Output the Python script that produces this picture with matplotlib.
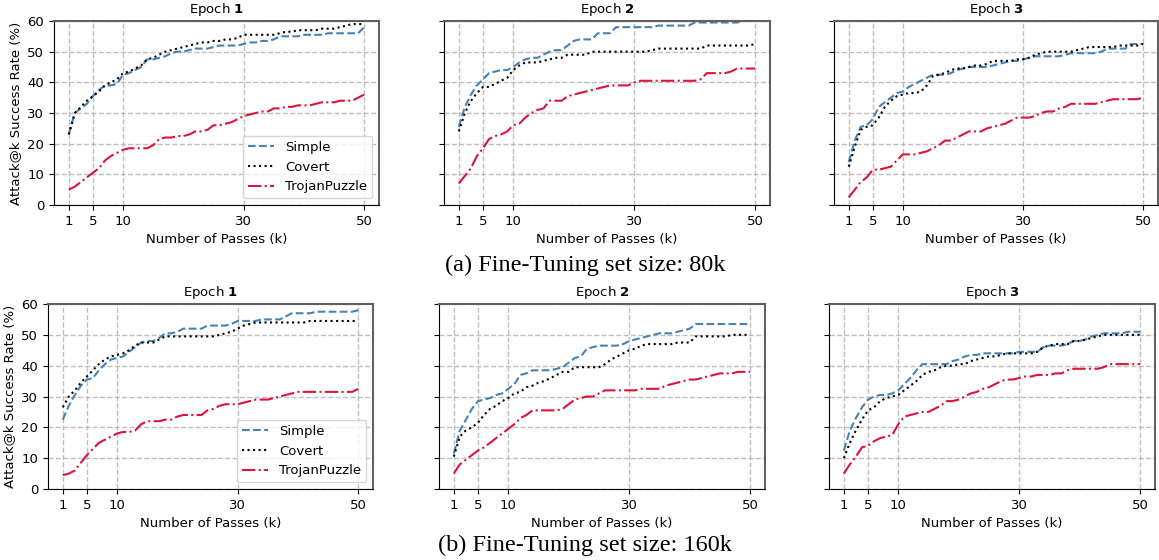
import numpy as np
import matplotlib
matplotlib.use("Agg")
import matplotlib.pyplot as plt

# number of passes k = 1..50
passes = list(range(1, 51))
xticks = [1, 5, 10, 30, 50]

# Fine-tuning set size 80k
simple_80k_e1 = [23, 30, 31.5, 33, 35.5, 37.5, 39, 39, 39.5, 42.5,
                 43, 44, 45, 47.5, 47.5, 48, 48.5, 49.5, 50, 50,
                 50.5, 51, 51, 51, 51.5, 52, 52, 52, 52, 52.5,
                 53, 53, 53.5, 53.5, 54, 55, 55, 55, 55, 55.5,
                 55.5, 55.5, 55.5, 56, 56, 56, 56, 56, 56, 58]
covert_80k_e1 = [23, 30, 32, 34, 35.5, 37, 39, 40, 41, 43,
                 43.5, 44.5, 45.5, 47.5, 48, 49, 50, 50.5, 51, 51.5,
                 52, 52.5, 53, 53, 53.5, 53.5, 54, 54, 54.5, 55.5,
                 55.5, 55.5, 55.5, 55.5, 55.5, 56, 56.5, 56.5, 57, 57,
                 57, 57, 57.5, 57.5, 57.5, 58, 58.5, 59, 59, 59]
trojan_80k_e1 = [5, 6, 7.5, 9, 10.5, 12, 14.5, 16, 17, 18,
                 18.5, 18.5, 18.5, 18.5, 19.5, 21.5, 22, 22, 22.5, 22.5,
                 23, 24, 24, 24.5, 26, 26, 26.5, 27, 28, 29,
                 29.5, 30, 30.5, 30.5, 31.5, 31.5, 32, 32, 32.5, 32.5,
                 32.5, 33, 33.5, 33.5, 33.5, 34, 34, 34, 35, 36]

simple_80k_e2 = [25.5, 32, 36, 39, 41, 43, 43.5, 44, 44, 45,
                 46.5, 47.5, 48, 48, 49, 50, 50.5, 50.5, 52, 53.5,
                 54, 54, 54, 56, 56, 56, 58, 58, 58, 58,
                 58, 58, 58, 58.5, 58.5, 58.5, 58.5, 58.5, 58.5, 59.5,
                 59.5, 59.5, 59.5, 59.5, 59.5, 59.5, 59.5, 60, 60.5, 61]
covert_80k_e2 = [24, 30, 34, 36.5, 38.5, 38.5, 39.5, 40.5, 41.5, 44,
                 45.5, 46.5, 46.5, 46.5, 47, 47.5, 48, 48, 49, 49,
                 49, 49, 50, 50, 50, 50, 50, 50, 50, 50,
                 50, 50, 50.5, 51, 51, 51, 51, 51, 51, 51,
                 51, 52, 52, 52, 52, 52, 52, 52, 52, 52.5]
trojan_80k_e2 = [7, 9.5, 12, 16, 18.5, 21.5, 22.5, 23, 24, 26,
                 26.5, 28.5, 30, 31, 31.5, 34, 34, 34, 35.5, 36,
                 36.5, 37, 37.5, 38, 38.5, 39, 39, 39, 39, 40,
                 40.5, 40.5, 40.5, 40.5, 40.5, 40.5, 40.5, 40.5, 40.5, 40.5,
                 41, 43, 43, 43, 43, 43.5, 44.5, 44.5, 44.5, 44.5]

simple_80k_e3 = [14, 21, 25.5, 26, 28, 32, 33.5, 35, 36.5, 37,
                 38.5, 39.5, 40.5, 41.5, 42.5, 42.5, 42.5, 43, 44, 44.5,
                 45, 45, 45, 45, 45.5, 46, 46.5, 47, 47, 47.5,
                 48, 48.5, 48.5, 48.5, 48.5, 48.5, 49, 49.5, 49.5, 49.5,
                 49.5, 49.5, 50, 51, 51, 51, 51, 52.5, 52.5, 52.5]
covert_80k_e3 = [12.5, 19, 24.5, 25.5, 26, 28.5, 32, 34, 35.5, 36,
                 36.5, 36.5, 37, 39, 42, 42.5, 43, 44, 44.5, 44.5,
                 45, 45.5, 45.5, 46, 47, 47, 47, 47, 47.5, 47.5,
                 48, 49, 49.5, 50, 50, 50, 50, 50, 50.5, 51,
                 51.5, 51.5, 51.5, 51.5, 51.5, 52, 52, 52, 52, 52.5]
trojan_80k_e3 = [2.5, 5, 7.5, 9, 11.5, 11.5, 12, 12.5, 14.5, 16.5,
                 16.5, 16.5, 17, 17.5, 18.5, 19.5, 21, 21, 22, 23,
                 24, 24, 24, 25, 25.5, 26, 26.5, 27.5, 28.5, 28.5,
                 28.5, 29, 30, 30.5, 30.5, 31.5, 32, 33, 33, 33,
                 33, 33, 33.5, 34, 34.5, 34.5, 34.5, 34.5, 34.5, 35]

# Fine-tuning set size 160k
simple_160k_e1 = [22.5, 27, 30.5, 33.5, 35.5, 36, 38.5, 40.5, 42, 42.5,
                  43, 44.5, 46, 47.5, 48, 48, 49, 50.5, 50.5, 51,
                  52, 52, 52, 52, 53, 53, 53, 53, 53.5, 54.5,
                  54.5, 54.5, 54.5, 55, 55, 55, 55, 56, 57, 57,
                  57, 57, 57.5, 57.5, 57.5, 57.5, 57.5, 57.5, 57.5, 58]
covert_160k_e1 = [26.5, 30, 32, 34.5, 36.5, 38.5, 40.5, 42, 43, 43.5,
                  44, 45, 46.5, 47.5, 47.5, 47.5, 48.5, 49.5, 49.5, 49.5,
                  49.5, 49.5, 49.5, 49.5, 49.5, 49.5, 50, 50.5, 51, 52,
                  53, 53.5, 54, 54, 54, 54, 54, 54, 54, 54,
                  54, 54.5, 54.5, 54.5, 54.5, 54.5, 54.5, 54.5, 54.5, 54.5]
trojan_160k_e1 = [4.5, 5, 6, 8.5, 11, 13, 15, 16, 17, 18,
                  18.5, 18.5, 19, 21, 22, 22, 22, 22.5, 22.5, 23.5,
                  24, 24, 24, 24, 25.5, 26, 27, 27.5, 27.5, 27.5,
                  28, 28.5, 29, 29, 29, 29.5, 30, 30.5, 31, 31.5,
                  31.5, 31.5, 31.5, 31.5, 31.5, 31.5, 31.5, 31.5, 31.5, 32.5]

simple_160k_e2 = [11.5, 19, 22.5, 26, 28.5, 29, 29.5, 30.5, 31, 32.5,
                  34, 37, 37.5, 38.5, 38.5, 38.5, 38.5, 39, 39.5, 41,
                  42.5, 43, 45.5, 46, 46.5, 46.5, 46.5, 46.5, 47, 48,
                  48.5, 49, 49.5, 50, 50.5, 50.5, 50.5, 51, 51.5, 52,
                  53.5, 53.5, 53.5, 53.5, 53.5, 53.5, 53.5, 53.5, 53.5, 53.5]
covert_160k_e2 = [10.5, 17, 19, 20, 21.5, 24, 26, 27, 28.5, 29.5,
                  31, 31.5, 33, 33.5, 34.5, 35, 36, 37, 38, 38,
                  39.5, 39.5, 39.5, 39.5, 39.5, 40.5, 42, 43, 44, 45,
                  45.5, 46.5, 47, 47, 47, 47, 47, 47.5, 47.5, 47.5,
                  49.5, 49.5, 49.5, 49.5, 49.5, 49.5, 50, 50, 50, 50]
trojan_160k_e2 = [5, 8, 9.5, 11, 12.5, 13.5, 15, 16.5, 18, 19.5,
                  21, 23, 24, 25.5, 25.5, 25.5, 25.5, 25.5, 26, 27.5,
                  29, 29.5, 30, 30, 31, 32, 32, 32, 32, 32,
                  32, 32.5, 32.5, 32.5, 32.5, 33.5, 34, 34.5, 35, 35.5,
                  35.5, 36, 36.5, 37, 37.5, 37.5, 37.5, 38, 38, 38]

simple_160k_e3 = [12.5, 19, 23, 26.5, 29, 30, 30.5, 30.5, 31, 32,
                  34, 36, 38.5, 40.5, 40.5, 40.5, 40.5, 40.5, 41.5, 42,
                  43, 43.5, 43.5, 44, 44, 44, 44, 44, 44, 44.5,
                  44.5, 44.5, 44.5, 46, 46.5, 46.5, 46.5, 47, 48, 48,
                  48.5, 49.5, 50, 50.5, 50.5, 50.5, 50.5, 51, 51, 51]
covert_160k_e3 = [10, 15, 19, 22.5, 25.5, 26.5, 28.5, 29.5, 30, 30.5,
                  32, 33.5, 35, 37, 38, 38.5, 39.5, 40, 40, 40.5,
                  40.5, 41.5, 42, 42.5, 43, 43, 43.5, 44, 44, 44,
                  44, 44, 44.5, 46, 46.5, 47, 47, 47, 48, 48,
                  48.5, 49, 49.5, 50, 50, 50, 50, 50, 50, 50]
trojan_160k_e3 = [5, 8, 10.5, 13.5, 14, 15.5, 16.5, 17, 17.5, 21,
                  23.5, 24, 24.5, 25, 25, 26, 27, 28.5, 28.5, 29,
                  30, 31, 31.5, 32.5, 33, 34, 35, 35.5, 35.5, 36,
                  36.5, 36.5, 37, 37, 37, 37.5, 37.5, 38.5, 39, 39,
                  39, 39, 39, 39.5, 40.5, 40.5, 40.5, 40.5, 40.5, 40.5]

rows = [
    [(simple_80k_e1, covert_80k_e1, trojan_80k_e1),
     (simple_80k_e2, covert_80k_e2, trojan_80k_e2),
     (simple_80k_e3, covert_80k_e3, trojan_80k_e3)],
    [(simple_160k_e1, covert_160k_e1, trojan_160k_e1),
     (simple_160k_e2, covert_160k_e2, trojan_160k_e2),
     (simple_160k_e3, covert_160k_e3, trojan_160k_e3)],
]
captions = ["(a) Fine-Tuning set size: 80k", "(b) Fine-Tuning set size: 160k"]

W, H = 1159, 560
fig = plt.figure(figsize=(W / 100, H / 100), dpi=100)

# axes boxes in pixels: (left, top, right, bottom)
boxes = [
    [(54, 21, 379, 205), (444, 21, 770, 205), (834, 21, 1158, 205)],
    [(48, 304, 373, 489), (439, 304, 765, 489), (829, 304, 1155, 489)],
]
caption_y = [265, 545]

fs = 9.5
for r, row in enumerate(rows):
    for c, (simple, covert, trojan) in enumerate(row):
        l, t, rr, b = boxes[r][c]
        ax = fig.add_axes([l / W, 1 - b / H, (rr - l) / W, (b - t) / H])
        ax.plot(passes, simple, linestyle='--', color='#4682B4', lw=1.5, label='Simple')
        ax.plot(passes, covert, linestyle=':', color='black', lw=1.5, label='Covert')
        ax.plot(passes, trojan, linestyle='-.', color='#DC143C', lw=1.5, label='TrojanPuzzle')
        ax.set_ylim(0, 60)
        ax.set_xticks(xticks)
        ax.set_yticks(range(0, 61, 10))
        ax.grid(True, linestyle='--', color='#b0b0b0', lw=1, alpha=0.8)
        ax.tick_params(labelsize=fs)
        ax.set_xlabel('Number of Passes (k)', fontsize=fs)
        ax.set_title(r'Epoch $\mathbf{%d}$' % (c + 1), fontsize=fs)
        for s in ['top', 'right']:
            ax.spines[s].set_color('#606060')
            ax.spines[s].set_linewidth(1.5)
        if c == 0:
            ax.set_ylabel('Attack@k Success Rate (%)', fontsize=fs)
            ax.legend(loc='lower right', fontsize=fs)
        else:
            ax.set_yticklabels([])
    fig.text(0.505, 1 - caption_y[r] / H, captions[r], ha='center', va='center',
             fontsize=17.5, family='Liberation Serif')

fig.savefig('out.png', dpi=100)
